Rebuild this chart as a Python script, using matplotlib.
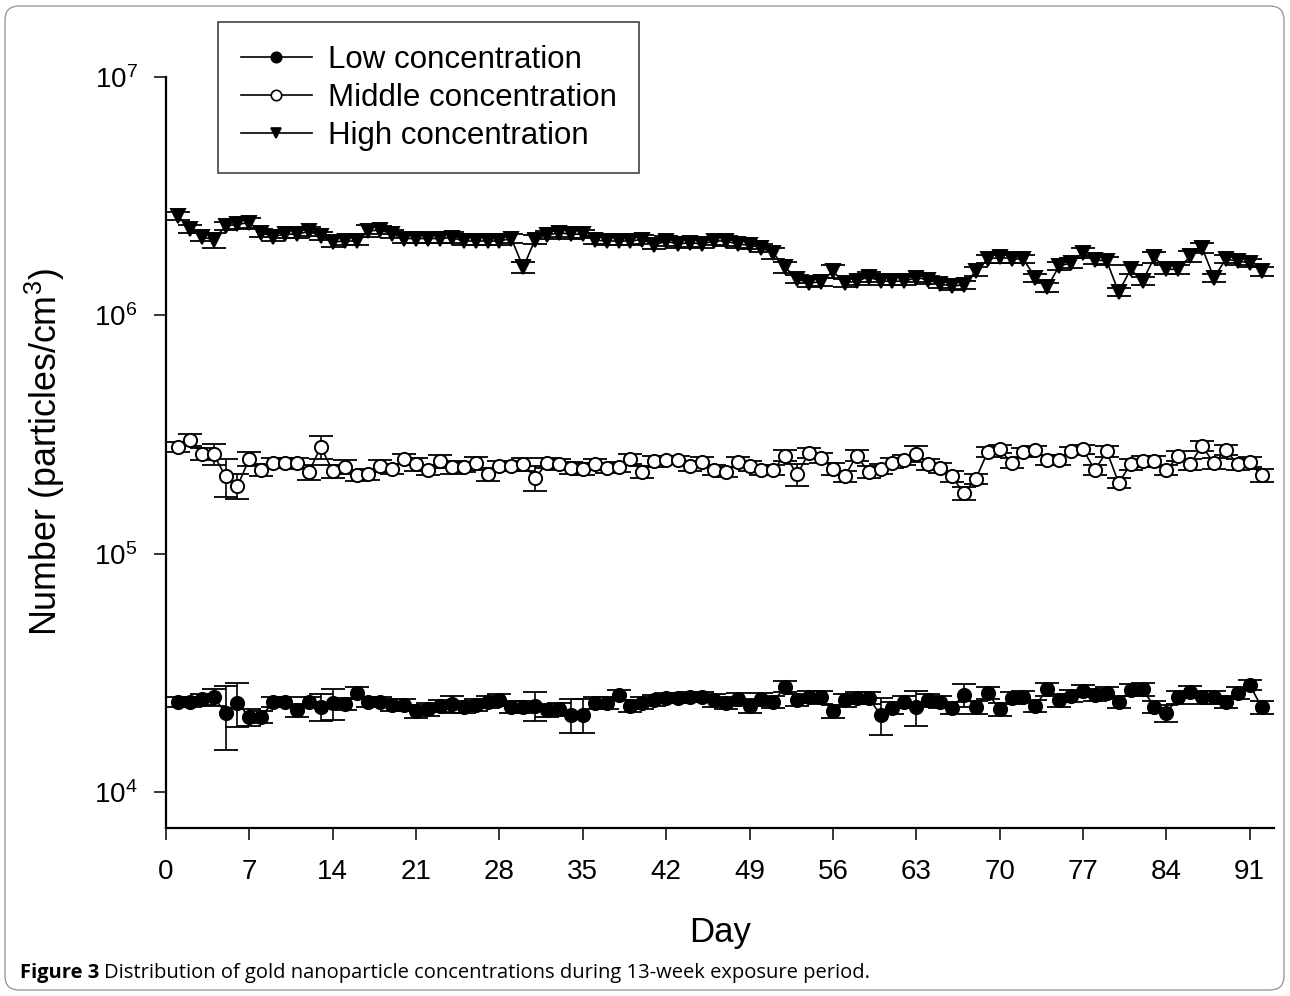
import matplotlib

matplotlib.use("Agg")
import matplotlib.pyplot as plt
import numpy as np
from matplotlib.lines import Line2D
from matplotlib.patches import FancyBboxPatch

plt.rcParams["font.family"] = ["Liberation Sans", "DejaVu Sans"]
plt.rcParams["mathtext.fontset"] = "custom"
plt.rcParams["mathtext.rm"] = "Liberation Sans"
plt.rcParams["mathtext.it"] = "Liberation Sans:italic"

# ---- data (values, and error as % of value) ----
days = np.arange(1, 93)

high = [2.61, 2.31, 2.14, 2.07, 2.37, 2.41, 2.45, 2.22, 2.14, 2.19,
        2.19, 2.25, 2.15, 2.03, 2.05, 2.05, 2.26, 2.28, 2.19, 2.10,
        2.10, 2.10, 2.10, 2.12, 2.05, 2.05, 2.05, 2.05, 2.10, 1.59,
        2.08, 2.17, 2.22, 2.19, 2.19, 2.07, 2.05, 2.05, 2.05, 2.08,
        1.97, 2.05, 1.99, 2.02, 1.99, 2.05, 2.05, 1.99, 1.97, 1.92,
        1.82, 1.59, 1.42, 1.37, 1.38, 1.53, 1.37, 1.39, 1.45, 1.39,
        1.39, 1.39, 1.44, 1.41, 1.35, 1.33, 1.34, 1.53, 1.72, 1.75,
        1.73, 1.72, 1.44, 1.31, 1.61, 1.66, 1.83, 1.71, 1.69, 1.25,
        1.56, 1.39, 1.75, 1.56, 1.56, 1.77, 1.92, 1.44, 1.72, 1.69,
        1.66, 1.53]  # x 1e6

middle = [2.81, 3.01, 2.63, 2.61, 2.11, 1.92, 2.50, 2.25, 2.40, 2.40,
          2.39, 2.20, 2.81, 2.22, 2.31, 2.13, 2.15, 2.34, 2.27, 2.50,
          2.37, 2.24, 2.44, 2.30, 2.31, 2.39, 2.15, 2.33, 2.33, 2.37,
          2.08, 2.40, 2.37, 2.29, 2.27, 2.37, 2.29, 2.31, 2.50, 2.20,
          2.44, 2.48, 2.47, 2.33, 2.42, 2.25, 2.21, 2.42, 2.34, 2.24,
          2.25, 2.58, 2.15, 2.65, 2.52, 2.27, 2.11, 2.58, 2.20, 2.27,
          2.40, 2.47, 2.63, 2.37, 2.29, 2.11, 1.79, 2.06, 2.67, 2.75,
          2.40, 2.66, 2.71, 2.47, 2.48, 2.69, 2.74, 2.24, 2.69, 1.98,
          2.37, 2.44, 2.44, 2.24, 2.57, 2.37, 2.84, 2.39, 2.72, 2.37,
          2.42, 2.13]  # x 1e5

low = [2.39, 2.39, 2.45, 2.50, 2.15, 2.37, 2.06, 2.07, 2.39, 2.39,
       2.20, 2.39, 2.28, 2.36, 2.34, 2.60, 2.39, 2.39, 2.32, 2.32,
       2.18, 2.22, 2.30, 2.34, 2.28, 2.32, 2.39, 2.44, 2.28, 2.28,
       2.30, 2.20, 2.22, 2.11, 2.11, 2.36, 2.37, 2.56, 2.30, 2.37,
       2.42, 2.48, 2.48, 2.50, 2.51, 2.42, 2.37, 2.45, 2.30, 2.45,
       2.39, 2.77, 2.44, 2.51, 2.50, 2.18, 2.42, 2.48, 2.48, 2.11,
       2.25, 2.39, 2.27, 2.42, 2.39, 2.25, 2.56, 2.27, 2.60, 2.22,
       2.48, 2.51, 2.30, 2.70, 2.42, 2.53, 2.66, 2.56, 2.61, 2.39,
       2.68, 2.70, 2.28, 2.14, 2.50, 2.63, 2.50, 2.50, 2.39, 2.60,
       2.82, 2.27]  # x 1e4

high_err = [4, 4, 4, 7, 4, 4, 5, 4, 4, 4,
            4, 4, 4, 5, 4, 4, 6, 4, 4, 4,
            4, 4, 4, 5, 4, 4, 4, 4, 4, 5,
            4, 4, 4, 5, 4, 4, 4, 4, 4, 4,
            4, 5, 4, 4, 4, 4, 5, 4, 4, 4,
            5, 5, 4, 4, 4, 6, 4, 4, 5, 4,
            4, 4, 4, 4, 4, 4, 4, 4, 4, 5,
            4, 4, 4, 4, 4, 5, 5, 4, 4, 4,
            4, 4, 5, 4, 4, 5, 5, 4, 4, 4,
            4, 4]

middle_err = [5, 6, 6, 10, 18, 12, 7, 6, 5, 5,
              5, 7, 11, 6, 7, 5, 5, 6, 5, 5,
              6, 5, 6, 6, 5, 6, 6, 5, 5, 6,
              12, 5, 5, 6, 6, 5, 5, 5, 5, 6,
              5, 4, 4, 5, 5, 5, 5, 5, 5, 5,
              5, 5, 11, 5, 5, 6, 5, 5, 6, 5,
              5, 5, 8, 5, 5, 5, 6, 5, 5, 4,
              5, 4, 4, 5, 5, 4, 4, 5, 5, 5,
              5, 5, 5, 5, 5, 5, 5, 5, 5, 5,
              5, 6]

low_err = [5, 5, 5, 8, 30, 21, 8, 6, 5, 5,
           6, 5, 13, 15, 6, 6, 5, 5, 6, 6,
           6, 6, 6, 8, 6, 6, 6, 6, 6, 6,
           14, 6, 6, 16, 16, 6, 6, 5, 6, 6,
           5, 5, 5, 5, 5, 6, 6, 6, 7, 6,
           6, 5, 6, 6, 6, 6, 6, 6, 6, 18,
           6, 6, 17, 6, 6, 6, 11, 6, 6, 6,
           6, 6, 6, 6, 6, 6, 6, 6, 6, 6,
           6, 6, 6, 8, 6, 6, 6, 6, 6, 6,
           5, 6]

W, H = 1290, 996
fig = plt.figure(figsize=(W / 100, H / 100), dpi=100)

# rounded outer frame
frame = FancyBboxPatch((0.05, 0.06), W / 100 - 0.11, H / 100 - 0.12,
                       boxstyle="round,pad=0,rounding_size=0.14",
                       transform=fig.dpi_scale_trans, fill=False,
                       edgecolor="#9a9a9a", linewidth=1.0)
fig.patches.append(frame)

ax_w = 1273.5 - 166
ax = fig.add_axes([166 / W, 1 - 828 / H, ax_w / W, (828 - 77) / H])

series = [
    (np.array(low) * 1e4, low_err, "o", "black", "Low concentration"),
    (np.array(middle) * 1e5, middle_err, "o", "white", "Middle concentration"),
    (np.array(high) * 1e6, high_err, "v", "black", "High concentration"),
]
handles = []
for vals, pct, mk, fc, lab in series:
    err = vals * np.array(pct) / 100.0
    ax.errorbar(days, vals, yerr=err, fmt="none", ecolor="black",
                elinewidth=1.2, capsize=8.5, capthick=1.3, zorder=2)
    ax.plot(days, vals, color="black", lw=1.2, marker=mk, ms=10 if mk == "v" else 9.5,
            mfc=fc, mec="black", mew=1.4, zorder=3)
    handles.append(Line2D([], [], color="black", lw=1.2, marker=mk, ms=7.5,
                          mfc=fc, mec="black", mew=1.2))

ax.set_yscale("log")
ax.set_ylim(7.06e3, 1e7)
ax.set_xlim(0, 93)
ax.set_xticks(np.arange(0, 92, 7))
ax.set_yticks([1e4, 1e5, 1e6, 1e7])
ax.set_yticklabels([r"$10^{4}$", r"$10^{5}$", r"$10^{6}$", r"$10^{7}$"])
ax.yaxis.set_minor_locator(matplotlib.ticker.NullLocator())

for s in ("top", "right"):
    ax.spines[s].set_visible(False)
for s in ("left", "bottom"):
    ax.spines[s].set_linewidth(1.6)

ax.tick_params(axis="both", direction="out", length=8.5, width=1.1, labelsize=20)
ax.tick_params(axis="x", pad=14)
ax.tick_params(axis="y", pad=12)

ax.set_xlabel("Day", fontsize=25)
ax.xaxis.set_label_coords(0.5, -(916 - 828) / (828 - 77))
ax.set_ylabel("Number (particles/cm$^{3}$)", fontsize=25.8)
ax.yaxis.set_label_coords(-(166 - 67) / ax_w, 0.5)

leg = ax.legend(handles, [s[4] for s in series], loc="upper left",
                bbox_to_anchor=(218 / W, 1 - 22 / H), bbox_transform=fig.transFigure,
                fontsize=22.5, frameon=True, fancybox=False, edgecolor="black",
                handlelength=2.3, handletextpad=0.5, labelspacing=0.26,
                borderpad=0.72, borderaxespad=0)
leg.get_frame().set_linewidth(1.1)

# caption: bold lead-in followed by normal text
cap_font = ["Open Sans", "DejaVu Sans"]
t1 = fig.text(20 / W, 1 - 973 / H, "Figure 3", fontsize=14.5, fontweight="bold",
              family=cap_font, va="center", ha="left")
fig.canvas.draw()
bb = t1.get_window_extent()
fig.text(bb.x1 / W + 5 / W, 1 - 973 / H,
         "Distribution of gold nanoparticle concentrations during 13-week exposure period.",
         fontsize=14.5, family=cap_font, va="center", ha="left")

fig.savefig("out.png", dpi=100)
